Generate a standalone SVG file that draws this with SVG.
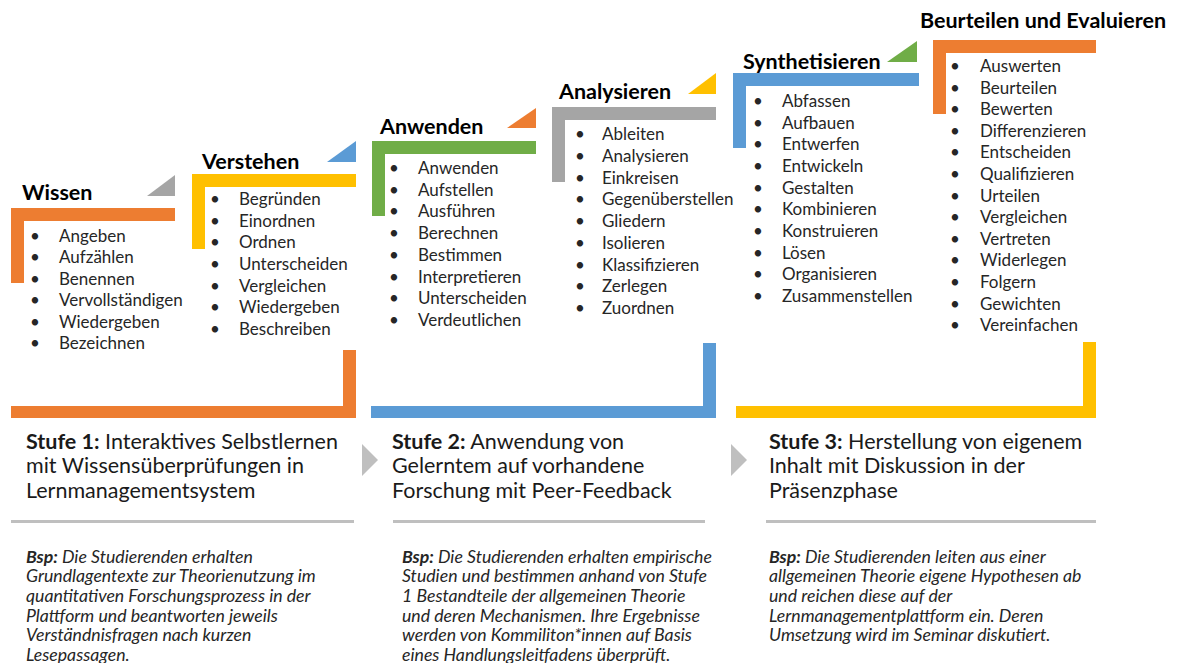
<svg xmlns="http://www.w3.org/2000/svg" width="1188" height="663" viewBox="0 0 1188 663">
<style>
text{font-family:Lato,"Liberation Sans",sans-serif;}
.title{font-size:21.5px;font-weight:bold;fill:#000;}
.li{font-size:17px;fill:#262626;}
.st{font-size:21.5px;fill:#1a1a1a;}
.bsp{font-size:17.7px;font-style:italic;fill:#262626;}
.b{font-weight:bold;}
.sep{fill:#BFBFBF;}
.arrow{fill:#BFBFBF;}
</style>
<rect width="1188" height="663" fill="#fff"/>

<g id="wissen">
<path d="M11,208H175V221H24V283H11Z" fill="#ED7D31"/>
<polygon points="147,196 175,196 175,175" fill="#A5A5A5"/>
<text class="title" x="22" y="199.5">Wissen</text>
<g class="li" transform="translate(0,1)">
<text x="30" y="241">•</text><text x="59" y="241">Angeben</text>
<text x="30" y="262.4">•</text><text x="59" y="262.4">Aufzählen</text>
<text x="30" y="283.8">•</text><text x="59" y="283.8">Benennen</text>
<text x="30" y="305.2">•</text><text x="59" y="305.2">Vervollständigen</text>
<text x="30" y="326.6">•</text><text x="59" y="326.6">Wiedergeben</text>
<text x="30" y="348">•</text><text x="59" y="348">Bezeichnen</text>
</g>
</g>

<g id="verstehen">
<path d="M192,174H356V187H205V249H192Z" fill="#FFC000"/>
<polygon points="327,162 356,162 356,141" fill="#5B9BD5"/>
<text class="title" x="202" y="168.5">Verstehen</text>
<g class="li" transform="translate(0,1)">
<text x="210" y="204">•</text><text x="239" y="204">Begründen</text>
<text x="210" y="225.7">•</text><text x="239" y="225.7">Einordnen</text>
<text x="210" y="247.3">•</text><text x="239" y="247.3">Ordnen</text>
<text x="210" y="269">•</text><text x="239" y="269">Unterscheiden</text>
<text x="210" y="290.7">•</text><text x="239" y="290.7">Vergleichen</text>
<text x="210" y="312.3">•</text><text x="239" y="312.3">Wiedergeben</text>
<text x="210" y="334">•</text><text x="239" y="334">Beschreiben</text>
</g>
</g>

<g id="anwenden">
<path d="M372,141H536V154H385V216H372Z" fill="#70AD47"/>
<polygon points="507,128 536,128 536,108" fill="#ED7D31"/>
<text class="title" x="380" y="133.5">Anwenden</text>
<g class="li" transform="translate(0,1)">
<text x="389" y="173">•</text><text x="418" y="173">Anwenden</text>
<text x="389" y="194.7">•</text><text x="418" y="194.7">Aufstellen</text>
<text x="389" y="216.4">•</text><text x="418" y="216.4">Ausführen</text>
<text x="389" y="238.1">•</text><text x="418" y="238.1">Berechnen</text>
<text x="389" y="259.8">•</text><text x="418" y="259.8">Bestimmen</text>
<text x="389" y="281.5">•</text><text x="418" y="281.5">Interpretieren</text>
<text x="389" y="303.2">•</text><text x="418" y="303.2">Unterscheiden</text>
<text x="389" y="325">•</text><text x="418" y="325">Verdeutlichen</text>
</g>
</g>

<g id="analysieren">
<path d="M552,107H716V120H565V182H552Z" fill="#A5A5A5"/>
<polygon points="688,94 716,94 716,73" fill="#FFC000"/>
<text class="title" x="559" y="98.5">Analysieren</text>
<g class="li" transform="translate(0,1)">
<text x="575" y="139">•</text><text x="602" y="139">Ableiten</text>
<text x="575" y="160.7">•</text><text x="602" y="160.7">Analysieren</text>
<text x="575" y="182.5">•</text><text x="602" y="182.5">Einkreisen</text>
<text x="575" y="204.2">•</text><text x="602" y="204.2">Gegenüberstellen</text>
<text x="575" y="226">•</text><text x="602" y="226">Gliedern</text>
<text x="575" y="247.7">•</text><text x="602" y="247.7">Isolieren</text>
<text x="575" y="269.5">•</text><text x="602" y="269.5">Klassifizieren</text>
<text x="575" y="291.2">•</text><text x="602" y="291.2">Zerlegen</text>
<text x="575" y="313">•</text><text x="602" y="313">Zuordnen</text>
</g>
</g>

<g id="synthetisieren">
<path d="M733,73H919V86H746V148H733Z" fill="#5B9BD5"/>
<polygon points="887,62 917,62 917,41" fill="#70AD47"/>
<text class="title" x="743" y="68.5">Synthetisieren</text>
<g class="li" transform="translate(0,1)">
<text x="753" y="106">•</text><text x="782" y="106">Abfassen</text>
<text x="753" y="127.7">•</text><text x="782" y="127.7">Aufbauen</text>
<text x="753" y="149.3">•</text><text x="782" y="149.3">Entwerfen</text>
<text x="753" y="171">•</text><text x="782" y="171">Entwickeln</text>
<text x="753" y="192.7">•</text><text x="782" y="192.7">Gestalten</text>
<text x="753" y="214.3">•</text><text x="782" y="214.3">Kombinieren</text>
<text x="753" y="236">•</text><text x="782" y="236">Konstruieren</text>
<text x="753" y="257.7">•</text><text x="782" y="257.7">Lösen</text>
<text x="753" y="279.3">•</text><text x="782" y="279.3">Organisieren</text>
<text x="753" y="301">•</text><text x="782" y="301">Zusammenstellen</text>
</g>
</g>

<g id="beurteilen">
<path d="M933,40H1096V53H946V114H933Z" fill="#ED7D31"/>
<text class="title" x="920" y="28">Beurteilen und Evaluieren</text>
<g class="li" transform="translate(0,1)">
<text x="950" y="71">•</text><text x="980" y="71">Auswerten</text>
<text x="950" y="92.6">•</text><text x="980" y="92.6">Beurteilen</text>
<text x="950" y="114.2">•</text><text x="980" y="114.2">Bewerten</text>
<text x="950" y="135.8">•</text><text x="980" y="135.8">Differenzieren</text>
<text x="950" y="157.4">•</text><text x="980" y="157.4">Entscheiden</text>
<text x="950" y="179">•</text><text x="980" y="179">Qualifizieren</text>
<text x="950" y="200.6">•</text><text x="980" y="200.6">Urteilen</text>
<text x="950" y="222.2">•</text><text x="980" y="222.2">Vergleichen</text>
<text x="950" y="243.8">•</text><text x="980" y="243.8">Vertreten</text>
<text x="950" y="265.4">•</text><text x="980" y="265.4">Widerlegen</text>
<text x="950" y="287">•</text><text x="980" y="287">Folgern</text>
<text x="950" y="308.6">•</text><text x="980" y="308.6">Gewichten</text>
<text x="950" y="330">•</text><text x="980" y="330">Vereinfachen</text>
</g>
</g>

<g id="stufe1">
<path d="M343,350H356V418H11V406H343Z" fill="#ED7D31"/>
<text class="st" x="26" y="448.5"><tspan class="b">Stufe 1:</tspan> Interaktives Selbstlernen</text>
<text class="st" x="26" y="473">mit Wissensüberprüfungen in</text>
<text class="st" x="26" y="497.5">Lernmanagementsystem</text>
<rect class="sep" x="11" y="520" width="343" height="3"/>
<text class="bsp" x="26" y="562.5"><tspan class="b">Bsp:</tspan> Die Studierenden erhalten</text>
<text class="bsp" x="26" y="582.2">Grundlagentexte zur Theorienutzung im</text>
<text class="bsp" x="26" y="601.9">quantitativen Forschungsprozess in der</text>
<text class="bsp" x="26" y="621.6">Plattform und beantworten jeweils</text>
<text class="bsp" x="26" y="641.3">Verständnisfragen nach kurzen</text>
<text class="bsp" x="26" y="661">Lesepassagen.</text>
</g>

<g id="stufe2">
<path d="M703,343H716V418H371V406H703Z" fill="#5B9BD5"/>
<text class="st" x="392" y="448.5"><tspan class="b">Stufe 2:</tspan> Anwendung von</text>
<text class="st" x="392" y="473">Gelerntem auf vorhandene</text>
<text class="st" x="392" y="497.5">Forschung mit Peer-Feedback</text>
<rect class="sep" x="393" y="520" width="312" height="3"/>
<text class="bsp" x="402" y="562.5"><tspan class="b">Bsp:</tspan> Die Studierenden erhalten empirische</text>
<text class="bsp" x="402" y="582.2">Studien und bestimmen anhand von Stufe</text>
<text class="bsp" x="402" y="601.9">1 Bestandteile der allgemeinen Theorie</text>
<text class="bsp" x="402" y="621.6">und deren Mechanismen. Ihre Ergebnisse</text>
<text class="bsp" x="402" y="641.3">werden von Kommiliton*innen auf Basis</text>
<text class="bsp" x="402" y="661">eines Handlungsleitfadens überprüft.</text>
</g>

<g id="stufe3">
<path d="M1083,342H1096V418H736V406H1083Z" fill="#FFC000"/>
<text class="st" x="769" y="448.5"><tspan class="b">Stufe 3:</tspan> Herstellung von eigenem</text>
<text class="st" x="769" y="473">Inhalt mit Diskussion in der</text>
<text class="st" x="769" y="497.5">Präsenzphase</text>
<rect class="sep" x="766" y="520" width="330" height="3"/>
<text class="bsp" x="769" y="562.5"><tspan class="b">Bsp:</tspan> Die Studierenden leiten aus einer</text>
<text class="bsp" x="769" y="582.2">allgemeinen Theorie eigene Hypothesen ab</text>
<text class="bsp" x="769" y="601.9">und reichen diese auf der</text>
<text class="bsp" x="769" y="621.6">Lernmanagementplattform ein. Deren</text>
<text class="bsp" x="769" y="641.3">Umsetzung wird im Seminar diskutiert.</text>
</g>

<g id="connectors">
<polygon class="arrow" points="362,444 378,460 362,476"/>
<polygon class="arrow" points="731,444 747,460 731,476"/>
</g>
</svg>
